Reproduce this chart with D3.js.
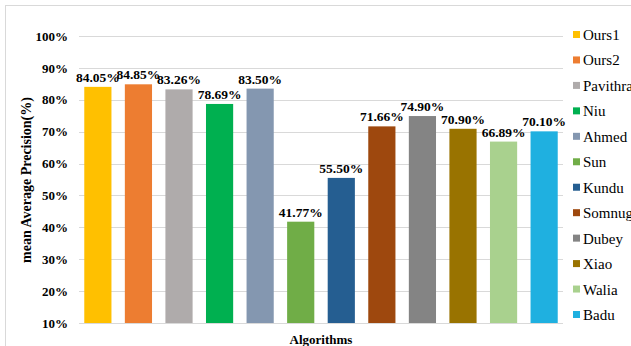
<!DOCTYPE html>
<html>
<head>
<meta charset="utf-8">
<script src="https://cdn.jsdelivr.net/npm/d3@7"></script>
<style>
body{margin:0;background:#fff;}
svg{display:block;}
svg text{font-family:"Liberation Serif","Times New Roman",serif;}
</style>
</head>
<body>
<script>
var algorithms=["Ours1","Ours2","Pavithra","Niu","Ahmed","Sun","Kundu","Somnugpong","Dubey","Xiao","Walia","Badu"];
var precision=[84.05,84.85,83.26,78.69,83.50,41.77,55.50,71.66,74.90,70.90,66.89,70.10];
var colors=["#FFC000","#ED7D31","#AFABAB","#00B050","#8497B0","#70AD47","#255E91","#9E480E","#848484","#997300","#A9D18E","#1FB0E0"];
var yTicks=[10,20,30,40,50,60,70,80,90,100];

var width=631,height=346;

var svg=d3.select("body").append("svg")
  .attr("width",width)
  .attr("height",height);

svg.append("rect")
  .attr("x",5.5).attr("y",5.5)
  .attr("width",width+20).attr("height",height+20)
  .attr("fill","#fff")
  .attr("stroke","#d9d9d9");

var x=d3.scaleBand().domain(algorithms).range([79,563]).paddingInner(0.33).paddingOuter(0.13);
var y=d3.scaleLinear().domain([10,100]).range([323,36]);

// gridlines
svg.append("g")
  .selectAll("line")
  .data(yTicks)
  .enter()
  .append("line")
  .attr("x1",79).attr("x2",563)
  .attr("y1",function(d){return Math.round(y(d))+0.5;})
  .attr("y2",function(d){return Math.round(y(d))+0.5;})
  .attr("stroke","#d9d9d9");

// y axis labels
var yAxis=d3.axisLeft(y).tickValues(yTicks).tickSize(0).tickPadding(11)
  .tickFormat(function(d){return d+"%";});
var ga=svg.append("g").attr("transform","translate(79,0)").call(yAxis);
ga.attr("font-family",null);
ga.select(".domain").remove();
ga.selectAll("text")
  .style("font-weight","bold")
  .style("font-size","13px")
  .attr("fill","#000");

// bars
svg.selectAll("rect.bar")
  .data(precision)
  .enter()
  .append("rect")
  .attr("class","bar")
  .attr("x",function(d,i){return x(algorithms[i]);})
  .attr("y",function(d){return y(d);})
  .attr("width",x.bandwidth())
  .attr("height",function(d){return y(10)-y(d);})
  .attr("fill",function(d,i){return colors[i];});

// value labels
svg.selectAll("text.val")
  .data(precision)
  .enter()
  .append("text")
  .attr("class","val")
  .text(function(d){return d.toFixed(2)+"%";})
  .attr("x",function(d,i){return x(algorithms[i])+x.bandwidth()/2;})
  .attr("y",function(d){return y(d)-5;})
  .attr("text-anchor","middle")
  .style("font-weight","bold")
  .style("font-size","13.5px")
  .attr("fill","#000");

// axis titles
svg.append("text")
  .text("mean Average Precision(%)")
  .attr("transform","translate(31,180) rotate(-90)")
  .attr("text-anchor","middle")
  .style("font-weight","bold")
  .style("font-size","14px")
  .attr("fill","#000");

svg.append("text")
  .text("Algorithms")
  .attr("x",321).attr("y",344)
  .attr("text-anchor","middle")
  .style("font-weight","bold")
  .style("font-size","13px")
  .attr("fill","#000");

// legend
var ly=d3.scalePoint().domain(algorithms).range([35,315]);
var legend=svg.append("g");
legend.selectAll("rect")
  .data(algorithms)
  .enter()
  .append("rect")
  .attr("x",573)
  .attr("y",function(d){return ly(d)-4;})
  .attr("width",7).attr("height",7)
  .attr("fill",function(d,i){return colors[i];});
legend.selectAll("text")
  .data(algorithms)
  .enter()
  .append("text")
  .text(function(d){return d;})
  .attr("x",583)
  .attr("y",function(d){return ly(d)+5;})
  .style("font-size","15px")
  .attr("fill","#000");
</script>
</body>
</html>
